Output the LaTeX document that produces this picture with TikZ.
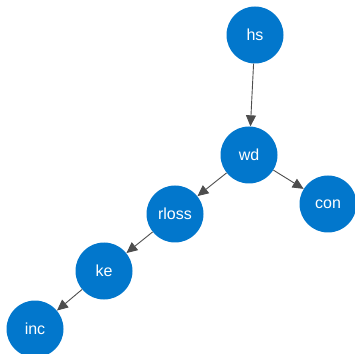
\documentclass[tikz,border=0pt]{standalone}
\usepackage{fontspec}
\setmainfont{Liberation Sans}
\usetikzlibrary{arrows.meta}
\definecolor{nodeblue}{RGB}{2,119,204}
\definecolor{edgegray}{RGB}{77,77,77}
\tikzset{
  vertex/.style={circle, fill=nodeblue, minimum size=57pt, inner sep=0pt, text=white, font=\fontsize{16}{19}\selectfont},
  link/.style={draw=edgegray, line width=0.9pt, -{Triangle[length=11pt,width=10pt]}}
}
\begin{document}
\begin{tikzpicture}[x=1pt,y=1pt]
\useasboundingbox (0,0) rectangle (355,353);
\node[vertex] (hs) at (255,318) {hs};
\node[vertex] (wd) at (249,198) {wd};
\node[vertex] (con) at (328,149) {con};
\node[vertex] (rloss) at (175,139) {rloss};
\node[vertex] (ke) at (104,82) {ke};
\node[vertex] (inc) at (35,24) {inc};
\draw[link] (hs) -- (wd);
\draw[link] (wd) -- (con);
\draw[link] (wd) -- (rloss);
\draw[link] (rloss) -- (ke);
\draw[link] (ke) -- (inc);
\end{tikzpicture}
\end{document}
